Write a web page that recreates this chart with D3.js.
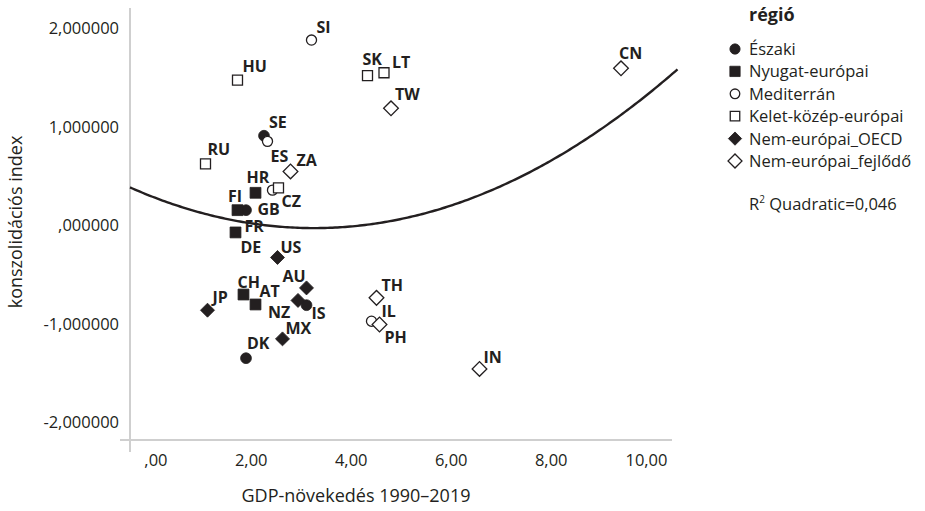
<!DOCTYPE html>
<html lang="hu">
<head>
<meta charset="utf-8">
<script src="https://cdn.jsdelivr.net/npm/d3@7"></script>
<style>
    body { margin: 0; background: #fff; }
    svg { display: block; font-family: "Open Sans", sans-serif; }
</style>
</head>
<body>
<svg id="chart" width="925" height="511"></svg>
<script>
const countries = ['SE', 'FI', 'IS', 'DK',
    'GB', 'FR', 'DE', 'CH', 'AT',
    'SI', 'ES', 'HR', 'IL',
    'HU', 'SK', 'LT', 'RU', 'CZ',
    'US', 'AU', 'NZ', 'JP', 'MX',
    'CN', 'TW', 'ZA', 'TH', 'PH', 'IN'];
const countryRegion = [0, 0, 0, 0,
    1, 1, 1, 1, 1,
    2, 2, 2, 2,
    3, 3, 3, 3, 3,
    4, 4, 4, 4, 4,
    5, 5, 5, 5, 5, 5];
const gdpGrowth = [2.34, 1.98, 3.19, 1.98,
    2.17, 1.81, 1.77, 1.93, 2.17,
    3.29, 2.41, 2.51, 4.49,
    1.81, 4.41, 4.74, 1.17, 2.63,
    2.61, 3.19, 3.02, 1.21, 2.71,
    9.48, 4.88, 2.87, 4.59, 4.65, 6.65];
const consolidationIndex = [0.907, 0.152, -0.812, -1.350,
    0.328, 0.152, -0.074, -0.704, -0.805,
    1.878, 0.850, 0.355, -0.975,
    1.472, 1.516, 1.546, 0.622, 0.379,
    -0.328, -0.637, -0.764, -0.863, -1.154,
    1.591, 1.185, 0.545, -0.738, -1.008, -1.459];
const regionNames = ['Északi', 'Nyugat-európai', 'Mediterrán', 'Kelet-közép-európai', 'Nem-európai_OECD', 'Nem-európai_fejlődő'];
const xTicks = [0, 2, 4, 6, 8, 10];
const yTicks = [-2, -1, 0, 1, 2];
const r2Text = 'Quadratic=0,046';

// label placement (px offsets from the marker), as in the original layout
const labelOffsets = {
    SI: [5, -7], HU: [5, -8], SK: [-5, -11], LT: [8, -5], TW: [4, -8], SE: [5, -8],
    RU: [2, -9], ES: [3, 21], ZA: [6, -5], HR: [-26, -7], CZ: [3, 19], FI: [-18, -8],
    GB: [2, 22], FR: [7, 22], DE: [5, 21], US: [3, -4], CH: [-6, -7], AT: [4, -7],
    AU: [-24, -6], JP: [5, -7], NZ: [-30, 18], IS: [5, 14], MX: [3, -5], DK: [1, -9],
    TH: [5, -7], IL: [10, -4], PH: [5, 19], IN: [4, -6], CN: [-2, -9]
};

const INK = '#231f20';
const AXIS_GREY = '#cfcfcf';

document.addEventListener('DOMContentLoaded', () => {
    drawChart();
});

function markerPath(region, legend = false) {
    const scale = legend ? 0.9 : 1;
    if (region === 0 || region === 2) return d3.symbol(d3.symbolCircle, (region === 0 ? 92 : 80) * scale)();
    if (region === 1 || region === 3) return d3.symbol(d3.symbolSquare, (region === 1 ? 118 : 100) * scale)();
    return d3.symbol(d3.symbolSquare, (region === 4 ? 98 : 108) * scale)();
}

function markerStyle(sel, region) {
    const filled = region === 0 || region === 1 || region === 4;
    sel.attr('fill', filled ? INK : '#fff')
        .attr('stroke', INK)
        .attr('stroke-width', filled ? 0.8 : 1.3);
}

function quadraticFit(xs, ys) {
    // normal equations for y = a + b x + c x^2
    const s = [0, 0, 0, 0, 0];
    const t = [0, 0, 0];
    xs.forEach((x, i) => {
        for (let k = 0; k < 5; k += 1) s[k] += Math.pow(x, k);
        for (let k = 0; k < 3; k += 1) t[k] += ys[i] * Math.pow(x, k);
    });
    const m = [
        [s[0], s[1], s[2], t[0]],
        [s[1], s[2], s[3], t[1]],
        [s[2], s[3], s[4], t[2]]
    ];
    for (let i = 0; i < 3; i += 1) {
        for (let j = i + 1; j < 3; j += 1) {
            const f = m[j][i] / m[i][i];
            for (let k = i; k < 4; k += 1) m[j][k] -= f * m[i][k];
        }
    }
    const coef = [0, 0, 0];
    for (let i = 2; i >= 0; i -= 1) {
        let v = m[i][3];
        for (let k = i + 1; k < 3; k += 1) v -= m[i][k] * coef[k];
        coef[i] = v / m[i][i];
    }
    return coef;
}

function drawChart() {
    const svg = d3.select('#chart');

    const x = d3.scaleLinear().domain([-0.34, 10.5]).range([130, 672]);
    const y = d3.scaleLinear().domain([-2.18, 2.2]).range([440, 8.3]);

    const fmtX = (v) => (v === 0 ? ',00' : d3.format('.2f')(v).replace('.', ','));
    const fmtY = (v) => {
        if (v === 0) return ',000000';
        return d3.format('.6f')(v).replace('.', ',').replace('−', '-');
    };

    // axes
    const axes = svg.append('g');
    axes.append('line')
        .attr('x1', 120).attr('x2', 672).attr('y1', 440).attr('y2', 440)
        .attr('stroke', AXIS_GREY).attr('stroke-width', 2);
    axes.append('line')
        .attr('x1', 130).attr('x2', 130).attr('y1', 8).attr('y2', 452)
        .attr('stroke', AXIS_GREY).attr('stroke-width', 2);

    axes.selectAll('.xtick')
        .data(xTicks)
        .join('text')
        .attr('class', 'xtick')
        .attr('x', (d) => x(d) + 20.5)
        .attr('y', 466)
        .attr('text-anchor', 'end')
        .attr('font-size', 16.5)
        .attr('fill', INK)
        .text(fmtX);

    axes.selectAll('.ytick')
        .data(yTicks)
        .join('text')
        .attr('class', 'ytick')
        .attr('x', 119)
        .attr('y', (d) => y(d) + 6)
        .attr('text-anchor', 'end')
        .attr('font-size', 16.5)
        .attr('fill', INK)
        .text(fmtY);

    svg.append('text')
        .attr('x', 356)
        .attr('y', 502)
        .attr('text-anchor', 'middle')
        .attr('font-size', 18)
        .attr('fill', INK)
        .text('GDP-növekedés 1990–2019');

    svg.append('text')
        .attr('transform', 'translate(22,222) rotate(-90)')
        .attr('text-anchor', 'middle')
        .attr('font-size', 18)
        .attr('fill', INK)
        .text('konszolidációs index');

    // quadratic fit line
    const [a, b, c] = quadraticFit(gdpGrowth, consolidationIndex);
    const curveX = d3.range(-0.34, 10.64, 0.05);
    svg.append('path')
        .attr('d', d3.line()
            .x((d) => x(d))
            .y((d) => y(a + b * d + c * d * d))(curveX))
        .attr('fill', 'none')
        .attr('stroke', INK)
        .attr('stroke-width', 2.4);

    // points
    const points = countries.map((code, i) => ({
        code,
        region: countryRegion[i],
        gx: gdpGrowth[i],
        ci: consolidationIndex[i]
    }));

    const marks = svg.append('g');
    points.forEach((p) => {
        const rot = p.region >= 4 ? ' rotate(45)' : '';
        marks.append('path')
            .attr('d', markerPath(p.region))
            .attr('transform', `translate(${x(p.gx)},${y(p.ci)})${rot}`)
            .call(markerStyle, p.region);
    });

    svg.append('g')
        .selectAll('text')
        .data(points)
        .join('text')
        .attr('x', (d) => x(d.gx) + labelOffsets[d.code][0])
        .attr('y', (d) => y(d.ci) + labelOffsets[d.code][1])
        .attr('font-size', 16)
        .attr('font-weight', 700)
        .attr('fill', INK)
        .text((d) => d.code);

    // legend
    const legend = svg.append('g');
    legend.append('text')
        .attr('x', 749).attr('y', 21)
        .attr('font-size', 18)
        .attr('font-weight', 700)
        .attr('fill', INK)
        .text('régió');

    regionNames.forEach((name, i) => {
        const cy = 49 + i * 22.4;
        const rot = i >= 4 ? ' rotate(45)' : '';
        legend.append('path')
            .attr('d', markerPath(i, true))
            .attr('transform', `translate(735,${cy})${rot}`)
            .call(markerStyle, i);
        legend.append('text')
            .attr('x', 749).attr('y', cy + 6)
            .attr('font-size', 16.5)
            .attr('fill', INK)
            .text(name);
    });

    const r2 = legend.append('text')
        .attr('x', 749).attr('y', 210)
        .attr('font-size', 16.5)
        .attr('fill', INK);
    r2.append('tspan').text('R');
    r2.append('tspan').attr('font-size', 10).attr('dy', -7).text('2');
    r2.append('tspan').attr('dy', 7).text(' ' + r2Text);
}
</script>
</body>
</html>
